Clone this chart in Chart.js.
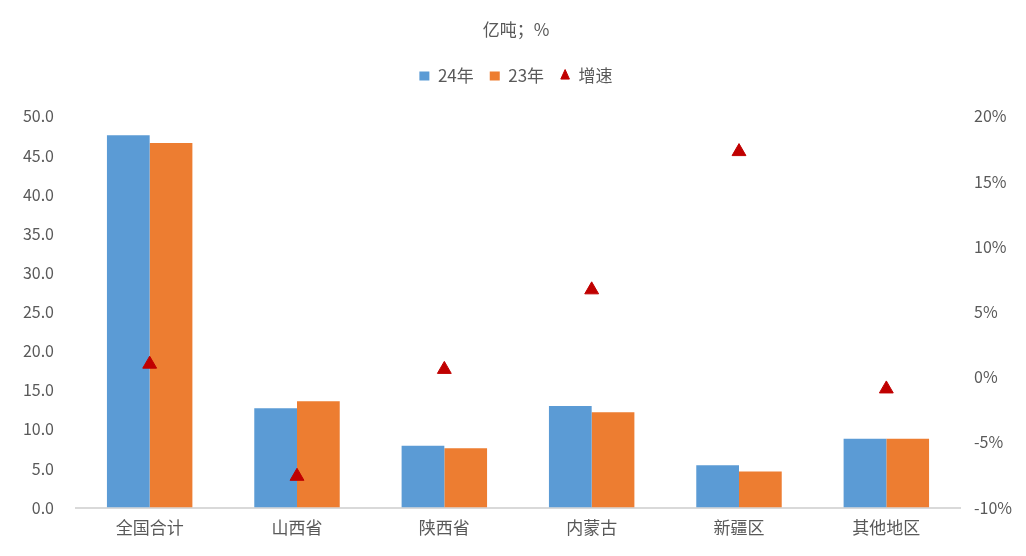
<!DOCTYPE html>
<html>
<head>
<meta charset="utf-8">
<script src="https://cdn.jsdelivr.net/npm/chart.js@4"></script>
<style>
  body{margin:0;background:#fff;}
  #wrap{width:1026px;height:556px;position:relative;}
</style>
</head>
<body>
<div id="wrap"><canvas id="chart"></canvas></div>
<script>
// 数据
var categories = ['全国合计','山西省','陕西省','内蒙古','新疆区','其他地区'];
var prod24 = [47.6, 12.7, 7.9, 13.0, 5.4, 8.8];
var prod23 = [46.6, 13.6, 7.6, 12.2, 4.6, 8.8];
var growth = [1.0, -7.6, 0.6, 6.7, 17.3, -0.9];
var leftTicks = [0, 50, 5];
var rightTicks = [-10, 20, 5];

var fontFam = "'Noto Sans CJK SC', 'DejaVu Sans', sans-serif";
var grey = '#595959';

// 图例下方留白
var legendGap = {
  id: 'legendGap',
  beforeInit: function(chart){
    var fit = chart.legend.fit;
    chart.legend.fit = function(){
      fit.bind(chart.legend)();
      this.height += 22;
    };
  }
};

var ctx = document.getElementById('chart').getContext('2d');
var myChart = new Chart(ctx, {
  data: {
    labels: categories,
    datasets: [
      {
        type: 'bar',
        label: '24年',
        data: prod24,
        backgroundColor: '#5B9BD5',
        pointStyle: 'rect',
        yAxisID: 'y',
        order: 2
      },
      {
        type: 'bar',
        label: '23年',
        data: prod23,
        backgroundColor: '#ED7D31',
        pointStyle: 'rect',
        yAxisID: 'y',
        order: 2
      },
      {
        type: 'line',
        label: '增速',
        data: growth,
        showLine: false,
        pointStyle: 'triangle',
        pointRadius: 8,
        pointHoverRadius: 8,
        backgroundColor: '#C00000',
        borderColor: '#C00000',
        borderWidth: 1,
        yAxisID: 'y1',
        order: 1
      }
    ]
  },
  plugins: [legendGap],
  options: {
    responsive: true,
    maintainAspectRatio: false,
    animation: false,
    datasets: {
      bar: {categoryPercentage: 0.58, barPercentage: 1.0}
    },
    layout: {padding: {left: 6, right: 0, top: 12, bottom: 16}},
    plugins: {
      title: {
        display: true,
        text: '亿吨；%',
        color: grey,
        font: {family: fontFam, size: 17, weight: 'normal'},
        padding: {top: 7, bottom: 12}
      },
      legend: {
        display: true,
        position: 'top',
        labels: {
          usePointStyle: true,
          pointStyleWidth: 10,
          boxHeight: 9,
          color: grey,
          font: {family: fontFam, size: 17},
          padding: 16,
          sort: function(a, b){ return a.datasetIndex - b.datasetIndex; }
        }
      },
      tooltip: {enabled: false}
    },
    scales: {
      x: {
        grid: {display: false},
        border: {display: true, color: '#D9D9D9', width: 2},
        ticks: {color: grey, font: {family: fontFam, size: 17}, padding: 2}
      },
      y: {
        position: 'left',
        min: leftTicks[0],
        max: leftTicks[1],
        grid: {display: false},
        border: {display: false},
        afterFit: function(s){ s.width = 70; },
        ticks: {
          stepSize: leftTicks[2],
          color: grey,
          font: {family: fontFam, size: 16},
          padding: 14,
          callback: function(v){ return v.toFixed(1); }
        }
      },
      y1: {
        position: 'right',
        min: rightTicks[0],
        max: rightTicks[1],
        grid: {display: false},
        border: {display: false},
        afterFit: function(s){ s.width = 66; },
        ticks: {
          stepSize: rightTicks[2],
          color: grey,
          font: {family: fontFam, size: 16},
          padding: 6,
          callback: function(v){ return v + '%'; }
        }
      }
    }
  }
});
</script>
</body>
</html>
